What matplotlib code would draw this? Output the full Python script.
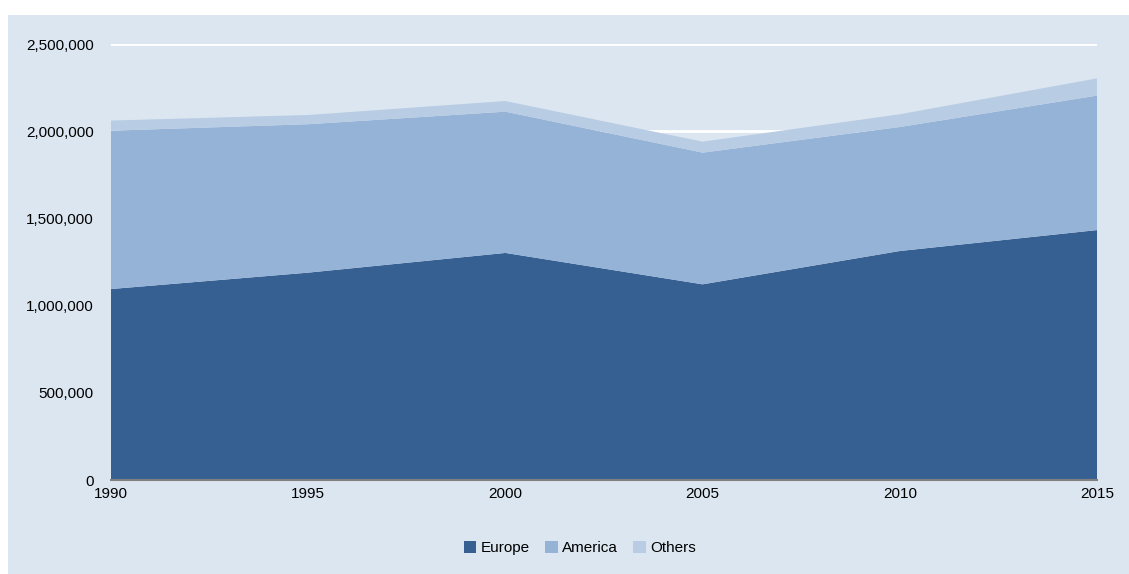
import matplotlib
matplotlib.use("Agg")
import matplotlib.pyplot as plt
from matplotlib.patches import Rectangle
from matplotlib.ticker import FuncFormatter

plt.rcParams['font.family'] = ['Liberation Sans', 'DejaVu Sans']

years = [1990, 1995, 2000, 2005, 2010, 2015]
europe = [1095000, 1189000, 1302000, 1122000, 1313000, 1433000]
america = [908000, 851000, 810000, 755000, 711000, 771000]
others = [58000, 53000, 61000, 63000, 73000, 99000]
series_names = ["Europe", "America", "Others"]
colors = ["#366092", "#95B3D7", "#B8CCE4"]
bg = "#DCE6F1"

W, H = 1129, 574
fig = plt.figure(figsize=(W / 100, H / 100), dpi=100, facecolor="white")
bgrect = Rectangle((8 / W, 0), 1 - 8 / W, 1 - 15 / H, transform=fig.transFigure,
                   facecolor=bg, edgecolor="none", zorder=-10)
fig.add_artist(bgrect)

ax = fig.add_axes([111 / W, (H - 480) / H, (1097 - 111) / W, (480 - 44) / H])
ax.set_facecolor(bg)
ax.stackplot(years, europe, america, others, colors=colors, labels=series_names,
             linewidth=0, zorder=2)

ax.set_xlim(1990, 2015)
ax.set_ylim(0, 2500000)
ax.set_xticks(years)
ax.set_yticks(range(0, 2500001, 500000))
ax.yaxis.set_major_formatter(FuncFormatter(lambda v, p: f"{int(v):,}"))
ax.grid(axis="y", color="white", linewidth=2, zorder=1)
ax.set_axisbelow(True)
for s in ["top", "right", "left"]:
    ax.spines[s].set_visible(False)
ax.spines["bottom"].set_color("#808080")
ax.spines["bottom"].set_linewidth(1.5)
ax.spines["bottom"].set_zorder(3)
ax.tick_params(axis="both", length=0, labelsize=11, colors="black")
ax.tick_params(axis="y", pad=12.5)
ax.tick_params(axis="x", pad=5)

handles, labels = ax.get_legend_handles_labels()
fig.legend(handles, labels, loc="center", bbox_to_anchor=(580 / W, (H - 548) / H),
           ncol=3, frameon=False, fontsize=11, handlelength=0.8, handleheight=0.8,
           handletextpad=0.3, columnspacing=1.0)

fig.savefig("out.png", dpi=100, facecolor="white")
